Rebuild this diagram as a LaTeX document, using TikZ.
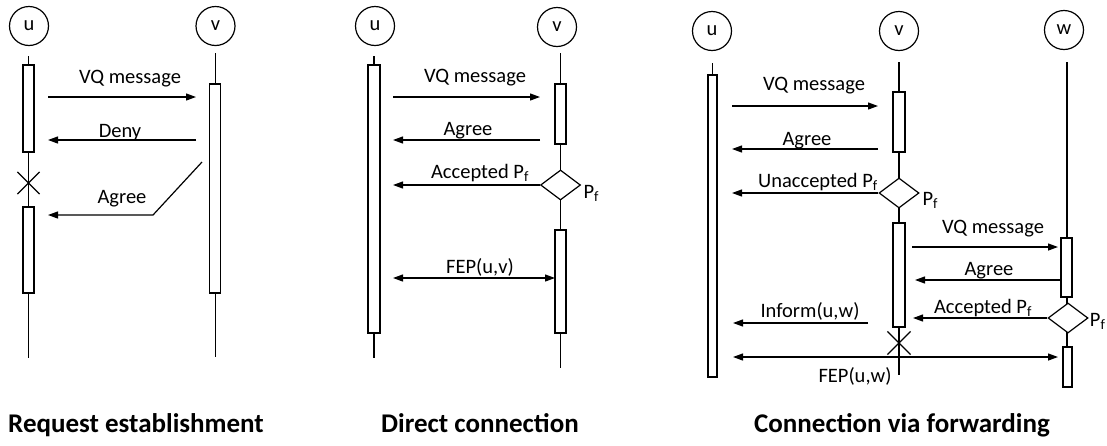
\documentclass[tikz,border=0pt]{standalone}
\usepackage{fontspec}
\setmainfont{Carlito}
\usetikzlibrary{arrows.meta,shapes.geometric,shapes.misc}

\newcommand\lblsize{\fontsize{20.5}{24}\selectfont}
\newcommand\ttlsize{\fontsize{27}{32}\selectfont\bfseries}
\newcommand\Pf{P\textsubscript{f}}

\begin{document}
\begin{tikzpicture}[x=1pt,y=-1pt,
  line width=1.2pt,
  lifehead/.style={circle,draw,minimum size=39pt,inner sep=0pt,font=\lblsize},
  actbox/.style={draw,fill=white,inner sep=0pt,minimum width=11pt},
  choice/.style={diamond,draw,fill=white,inner sep=0pt,aspect=1.33,
                 minimum width=40pt,minimum height=30pt},
  stopmark/.style={cross out,draw,inner sep=0pt,minimum size=21pt},
  msg/.style={-{Triangle[length=10pt,width=7pt]}},
  dblmsg/.style={{Triangle[length=10pt,width=7pt]}-{Triangle[length=10pt,width=7pt]}},
  lbl/.style={font=\lblsize,anchor=base,inner sep=0pt},
  ttl/.style={font=\ttlsize,anchor=base,inner sep=0pt}]

\useasboundingbox (0,0) rectangle (1107,445);

% ---------- Request establishment ----------
\node[lifehead] (u1) at (29,26) {u};
\node[lifehead] (v1) at (215.5,26) {v};
\coordinate (u1top) at (28.5,56);  \coordinate (u1bot) at (28.5,358);
\coordinate (v1top) at (215.3,53); \coordinate (v1bot) at (215.3,357);
\draw (u1top) -- (u1bot);
\draw (v1top) -- (v1bot);
\node[actbox,minimum height=87pt]  (u1a) at (28.5,108.5) {};
\node[stopmark]                    (u1x) at (28.5,183) {};
\node[actbox,minimum height=86pt]  (u1b) at (28.5,250) {};
\node[actbox,minimum height=209pt] (v1a) at (215.3,188.5) {};

\coordinate (p1vqs) at (48,97);   \coordinate (p1vqe) at (196,97);
\coordinate (p1dns) at (196,140); \coordinate (p1dne) at (48,140);
\coordinate (p1ags) at (202,162); \coordinate (p1agk) at (153,215);
\coordinate (p1age) at (48,215);
\draw[msg] (p1vqs) -- (p1vqe);
\draw[msg] (p1dns) -- (p1dne);
\draw[msg] (p1ags) -- (p1agk) -- (p1age);
\node[lbl] (t1vq) at (130,83)  {VQ message};
\node[lbl] (t1dn) at (120,137) {Deny};
\node[lbl] (t1ag) at (122,203) {Agree};

% ---------- Direct connection ----------
\node[lifehead] (u2) at (375,26) {u};
\node[lifehead] (v2) at (557,27) {v};
\coordinate (u2top) at (374,56);  \coordinate (u2bot) at (374,358);
\coordinate (v2top) at (560.5,53); \coordinate (v2bot) at (560.5,368);
\draw (u2top) -- (u2bot);
\draw (v2top) -- (v2bot);
\node[actbox,minimum width=12pt,minimum height=268pt] (u2a) at (374,199) {};
\node[actbox,minimum height=60pt]  (v2a) at (560.5,114) {};
\node[choice]                      (d2)  at (560.5,185) {};
\node[actbox,minimum height=103pt] (v2b) at (560.5,281.5) {};

\coordinate (p2vqs) at (393,97);  \coordinate (p2vqe) at (540,97);
\coordinate (p2ags) at (540,140); \coordinate (p2age) at (393,140);
\coordinate (p2ace) at (393,185);
\coordinate (p2fa) at (393,278);  \coordinate (p2fb) at (555,278);
\draw[msg] (p2vqs) -- (p2vqe);
\draw[msg] (p2ags) -- (p2age);
\draw[msg] (d2.west) -- (p2ace);
\draw[dblmsg] (p2fa) -- (p2fb);
\node[lbl] (t2vq) at (475,82)  {VQ message};
\node[lbl] (t2ag) at (468,135) {Agree};
\node[lbl] (t2ac) at (480,178) {Accepted \Pf};
\node[lbl,anchor=base west] (t2pf) at (583,198) {\Pf};
\node[lbl] (t2fp) at (480,273) {FEP(u,v)};

% ---------- Connection via forwarding ----------
\node[lifehead] (u3) at (712,31) {u};
\node[lifehead] (v3) at (899,31) {v};
\node[lifehead] (w3) at (1064,30) {w};
\coordinate (u3top) at (712.5,63); \coordinate (u3bot) at (712.5,370);
\coordinate (v3top) at (899,62);   \coordinate (v3bot) at (899,375);
\coordinate (w3top) at (1067,62);  \coordinate (w3bot) at (1067,380);
\draw (u3top) -- (u3bot);
\draw (v3top) -- (v3bot);
\draw (w3top) -- (w3bot);
\node[actbox,minimum width=9pt,minimum height=302pt] (u3a) at (712.5,226) {};
\node[actbox,minimum width=12pt,minimum height=60pt]  (v3a) at (899,122) {};
\node[choice]                                         (d3a) at (899,193) {};
\node[actbox,minimum width=12pt,minimum height=104pt] (v3b) at (899,275) {};
\node[stopmark,minimum size=22pt]                     (v3x) at (899,343) {};
\node[actbox,minimum height=59pt]                     (w3a) at (1066.5,267.5) {};
\node[choice]                                         (d3b) at (1068,318) {};
\node[actbox,minimum width=9pt,minimum height=40pt]   (w3b) at (1067.5,367) {};

\coordinate (p3vqs) at (732,106);  \coordinate (p3vqe) at (878,106);
\coordinate (p3ags) at (878,149);  \coordinate (p3age) at (732,149);
\coordinate (p3une) at (732,193);
\coordinate (p3wqs) at (912,247);  \coordinate (p3wqe) at (1058,247);
\coordinate (p3bgs) at (1061,280); \coordinate (p3bge) at (915,280);
\coordinate (p3ace) at (913,318);
\coordinate (p3ins) at (868,323);  \coordinate (p3ine) at (733,323);
\coordinate (p3fa) at (733,357);   \coordinate (p3fb) at (1058,357);
\draw[msg] (p3vqs) -- (p3vqe);
\draw[msg] (p3ags) -- (p3age);
\draw[msg] (d3a.west) -- (p3une);
\draw[msg] (p3wqs) -- (p3wqe);
\draw[msg] (p3bgs) -- (p3bge);
\draw[msg] (d3b.west) -- (p3ace);
\draw[msg] (p3ins) -- (p3ine);
\draw[dblmsg] (p3fa) -- (p3fb);
\node[lbl] (t3vq) at (814,90)  {VQ message};
\node[lbl] (t3ag) at (807,145) {Agree};
\node[lbl] (t3un) at (818,187) {Unaccepted \Pf};
\node[lbl,anchor=base west] (t3pa) at (922,205) {\Pf};
\node[lbl] (t3wq) at (993,233) {VQ message};
\node[lbl] (t3bg) at (989,275) {Agree};
\node[lbl] (t3ac) at (983,313) {Accepted \Pf};
\node[lbl,anchor=base east] (t3pb) at (1106,326) {\Pf};
\node[lbl] (t3in) at (810,317) {Inform(u,w)};
\node[lbl] (t3fp) at (855,382) {FEP(u,w)};

% ---------- captions ----------
\node[ttl] (c1) at (136,432) {Request establishment};
\node[ttl] (c2) at (480,432) {Direct connection};
\node[ttl] (c3) at (902,432) {Connection via forwarding};
\end{tikzpicture}
\end{document}
